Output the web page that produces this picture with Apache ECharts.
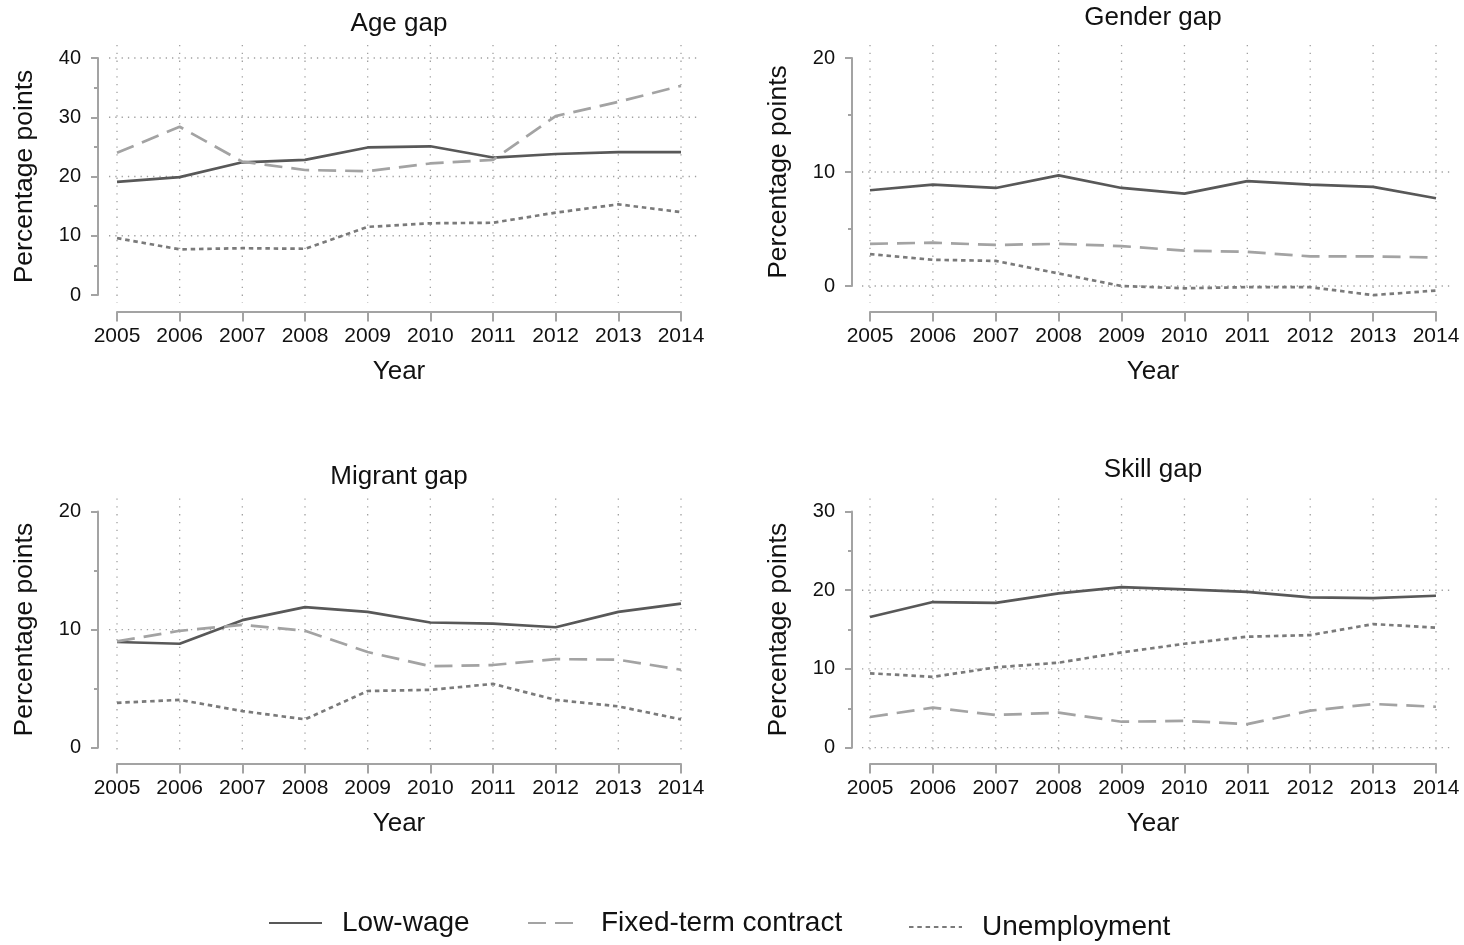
<!DOCTYPE html>
<html><head><meta charset="utf-8">
<script src="https://cdn.jsdelivr.net/npm/echarts@6/dist/echarts.min.js"></script>
<style>html,body{margin:0;padding:0;background:#fff}#c{width:1464px;height:945px}</style>
</head><body><div id="c"></div>
<script>
// ---------------- data ----------------
const years = [2005, 2006, 2007, 2008, 2009, 2010, 2011, 2012, 2013, 2014];
const seriesNames = ['Low-wage', 'Fixed-term contract', 'Unemployment'];
const panelTitles = ['Age gap', 'Gender gap', 'Migrant gap', 'Skill gap'];
const yAxisName = 'Percentage points';
const xAxisName = 'Year';

const ageLowWage      = [19.1, 19.9, 22.4, 22.8, 24.9, 25.1, 23.2, 23.8, 24.1, 24.1];
const ageFixedTerm    = [24.0, 28.4, 22.5, 21.1, 20.9, 22.2, 22.8, 30.2, 32.6, 35.3];
const ageUnemployment = [9.6, 7.7, 7.9, 7.8, 11.5, 12.1, 12.2, 13.9, 15.3, 14.0];

const genderLowWage      = [8.4, 8.9, 8.6, 9.7, 8.6, 8.1, 9.2, 8.9, 8.7, 7.7];
const genderFixedTerm    = [3.7, 3.8, 3.6, 3.7, 3.5, 3.1, 3.0, 2.6, 2.6, 2.5];
const genderUnemployment = [2.8, 2.3, 2.2, 1.1, 0.0, -0.2, -0.1, -0.1, -0.8, -0.4];

const migrantLowWage      = [8.95, 8.8, 10.8, 11.9, 11.5, 10.6, 10.5, 10.2, 11.5, 12.2];
const migrantFixedTerm    = [9.0, 9.9, 10.4, 9.9, 8.1, 6.9, 7.0, 7.5, 7.45, 6.6];
const migrantUnemployment = [3.8, 4.05, 3.1, 2.4, 4.8, 4.9, 5.4, 4.05, 3.5, 2.4];

const skillLowWage      = [16.6, 18.5, 18.4, 19.6, 20.4, 20.1, 19.8, 19.1, 19.0, 19.3];
const skillFixedTerm    = [3.9, 5.1, 4.15, 4.45, 3.3, 3.4, 3.0, 4.7, 5.55, 5.2];
const skillUnemployment = [9.45, 9.0, 10.2, 10.8, 12.1, 13.2, 14.1, 14.3, 15.7, 15.25];

// y axis ranges and labelled ticks
const yMaxes = [40, 20, 20, 30];
const yInterval = 10;
// horizontal gridlines drawn in each panel
const ageGridValues = [10, 20, 30, 40];
const genderGridValues = [0, 10];
const migrantGridValues = [10];
const skillGridValues = [0, 10, 20];

// ---------------- layout / style ----------------
const panelData = [
  [ageLowWage, ageFixedTerm, ageUnemployment],
  [genderLowWage, genderFixedTerm, genderUnemployment],
  [migrantLowWage, migrantFixedTerm, migrantUnemployment],
  [skillLowWage, skillFixedTerm, skillUnemployment]
];
const panelGridValues = [ageGridValues, genderGridValues, migrantGridValues, skillGridValues];

const grids = [
  { left: 117, width: 564, top: 58, height: 237 },
  { left: 870, width: 566, top: 58, height: 228 },
  { left: 117, width: 564, top: 511.5, height: 236.2 },
  { left: 870, width: 566, top: 511.5, height: 236.2 }
];
const xOffsets = [17, 26, 16.3, 16.3];
const yOffsets = [19, 18, 19, 18];
const titlePos = [[399, 24], [1153, 18], [399, 477], [1153, 470]];

const FONT = '"Liberation Sans", Arial, Helvetica, sans-serif';
const axisColor = '#a3a3a3';
const gridColor = '#a0a0a0';
const lineStyles = [
  { color: '#585858', width: 2.7, type: 'solid' },
  { color: '#a3a3a3', width: 2.7, type: [18, 9] },
  { color: '#7a7a7a', width: 2.7, type: [4.5, 3.8] }
];
const PAD_L = 8, PAD_R = 17, PAD_T = 13, PAD_B = 8;

const option = {
  animation: false,
  backgroundColor: '#ffffff',
  textStyle: { fontFamily: FONT },
  grid: [], xAxis: [], yAxis: [], series: [], title: [],
  legend: []
};

panelTitles.forEach((t, i) => {
  option.title.push({
    text: t, left: titlePos[i][0], top: titlePos[i][1] - 13, textAlign: 'center', padding: 0,
    textStyle: { fontSize: 26, fontWeight: 'normal', color: '#111', fontFamily: FONT }
  });
  option.grid.push(Object.assign({ containLabel: false }, grids[i]));
  option.xAxis.push({
    type: 'value', gridIndex: i, min: years[0], max: years[years.length - 1], interval: 1,
    offset: xOffsets[i],
    name: xAxisName, nameLocation: 'middle', nameGap: 47,
    nameTextStyle: { fontSize: 26, color: '#111', fontFamily: FONT },
    axisLine: { show: true, onZero: false, lineStyle: { color: axisColor, width: 2 } },
    axisTick: { show: true, length: 9.5, lineStyle: { color: axisColor, width: 2 } },
    axisLabel: { fontSize: 21, color: '#111', margin: 14, fontFamily: FONT, formatter: v => String(v) },
    splitLine: { show: false }
  });
  option.yAxis.push({
    type: 'value', gridIndex: i, min: 0, max: yMaxes[i], interval: yInterval,
    offset: yOffsets[i],
    name: yAxisName, nameLocation: 'middle', nameGap: 60, nameRotate: 90,
    nameTextStyle: { fontSize: 26.5, color: '#111', fontFamily: FONT },
    axisLine: { show: true, onZero: false, lineStyle: { color: axisColor, width: 2 } },
    axisTick: { show: true, length: 7, lineStyle: { color: axisColor, width: 2 } },
    minorTick: { show: true, splitNumber: 2, length: 4, lineStyle: { color: axisColor, width: 2 } },
    axisLabel: { fontSize: 20, color: '#111', margin: 17, fontFamily: FONT },
    splitLine: { show: false }, minorSplitLine: { show: false }
  });

  const allVals = [].concat(...panelData[i]);
  const yLow = Math.min(0, ...allVals);
  const yTop = yMaxes[i];
  const x0 = years[0], x1 = years[years.length - 1];

  // vertical dotted gridlines
  option.series.push({
    type: 'custom', xAxisIndex: i, yAxisIndex: i, clip: false, silent: true, z: 1,
    data: years.map(y => [y, 0]),
    renderItem: (params, api) => {
      const x = api.value(0);
      const a = api.coord([x, yTop]);
      const b = api.coord([x, yLow]);
      return { type: 'line', shape: { x1: a[0], y1: a[1] - PAD_T, x2: b[0], y2: b[1] + PAD_B },
        style: { stroke: gridColor, lineWidth: 1.3, lineDash: [1.3, 6.5] } };
    }
  });
  // horizontal dotted gridlines
  option.series.push({
    type: 'custom', xAxisIndex: i, yAxisIndex: i, clip: false, silent: true, z: 1,
    data: panelGridValues[i].map(v => [x0, v]),
    renderItem: (params, api) => {
      const v = api.value(1);
      const a = api.coord([x0, v]);
      const b = api.coord([x1, v]);
      return { type: 'line', shape: { x1: a[0] - PAD_L, y1: a[1], x2: b[0] + PAD_R, y2: b[1] },
        style: { stroke: gridColor, lineWidth: 1.3, lineDash: [1.3, 5] } };
    }
  });

  panelData[i].forEach((vals, k) => {
    option.series.push({
      name: seriesNames[k], type: 'line', xAxisIndex: i, yAxisIndex: i,
      data: years.map((y, j) => [y, vals[j]]),
      showSymbol: false, symbol: 'none', clip: false, z: 3,
      lineStyle: lineStyles[k], itemStyle: { color: lineStyles[k].color },
      emphasis: { disabled: true }
    });
  });
});

const legendLeft = [268, 527, 908];
const legendTop = [909, 909, 913];
seriesNames.forEach((n, k) => {
  option.legend.push({
    data: [n], left: legendLeft[k], top: legendTop[k], itemWidth: 53, itemHeight: 28,
    selectedMode: false, padding: 0,
    itemStyle: { opacity: 0 },
    textStyle: { fontSize: 28, color: '#111', fontFamily: FONT, padding: [0, 0, 0, 15] }
  });
});

const chart = echarts.init(document.getElementById('c'), null, { renderer: 'canvas' });
chart.setOption(option);
</script>
</body></html>
